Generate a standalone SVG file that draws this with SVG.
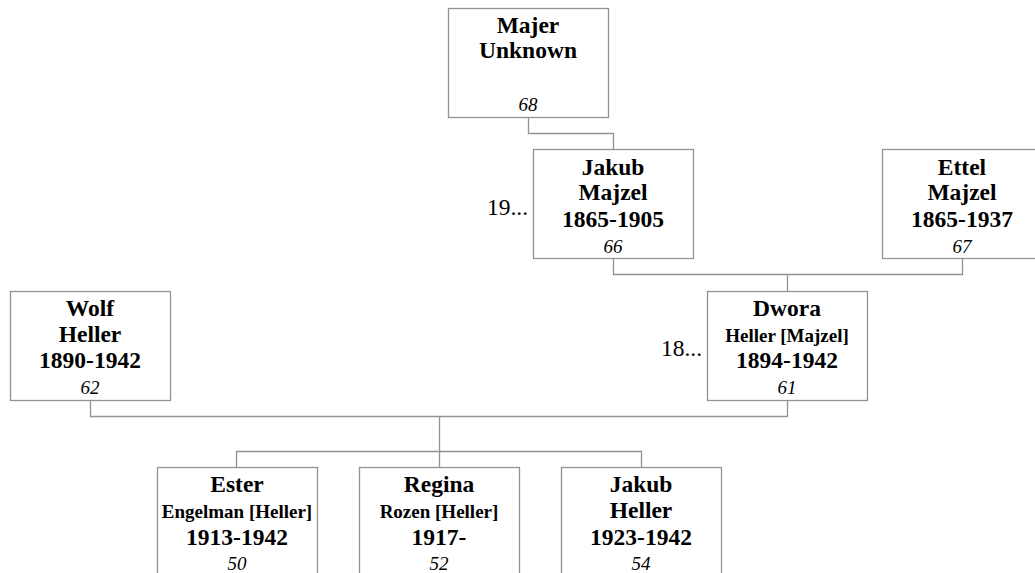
<svg xmlns="http://www.w3.org/2000/svg" width="1035" height="573" viewBox="0 0 1035 573">
<style>
rect.box{fill:#fff;stroke:#939393;stroke-width:1.3}
.conn path{fill:none;stroke:#939393;stroke-width:1.3}
text{font-family:"Liberation Serif","Times New Roman",serif;fill:#000;text-anchor:middle}
.n{font-weight:bold;font-size:23.5px}
.s{font-weight:bold;font-size:19px}
.i{font-style:italic;font-size:19px}
.g{font-size:23.5px;text-anchor:end}
</style>
<rect width="1035" height="573" fill="#fff"/>
<g class="conn" id="connectors">
<path d="M528.5,117 V133.5 H613.5 V149"/>
<path d="M613.5,258 V274.5 H962.5 V259"/>
<path d="M787.5,274.5 V291"/>
<path d="M90.5,400 V416.5 H787.5 V400"/>
<path d="M439.5,416.5 V467"/>
<path d="M236.5,467 V451.5 H641.5 V467"/>
</g>
<g id="majer">
<rect class="box" x="448.5" y="8.5" width="160" height="109"/>
<text class="n" x="528" y="33">Majer</text>
<text class="n" x="528" y="58">Unknown</text>
<text class="i" x="528" y="111">68</text>
</g>
<g id="jakub-majzel">
<rect class="box" x="533.5" y="149.5" width="160" height="109"/>
<text class="n" x="613" y="175">Jakub</text>
<text class="n" x="613" y="200">Majzel</text>
<text class="n" x="613" y="227">1865-1905</text>
<text class="i" x="613" y="253">66</text>
<text class="g" x="528" y="215">19...</text>
</g>
<g id="ettel">
<rect class="box" x="882.5" y="149.5" width="160" height="109"/>
<text class="n" x="962" y="175">Ettel</text>
<text class="n" x="962" y="200">Majzel</text>
<text class="n" x="962" y="227">1865-1937</text>
<text class="i" x="962" y="253">67</text>
</g>
<g id="wolf">
<rect class="box" x="10.5" y="291.5" width="160" height="109"/>
<text class="n" x="90" y="316">Wolf</text>
<text class="n" x="90" y="342">Heller</text>
<text class="n" x="90" y="368">1890-1942</text>
<text class="i" x="90" y="394">62</text>
</g>
<g id="dwora">
<rect class="box" x="707.5" y="291.5" width="160" height="109"/>
<text class="n" x="787" y="316">Dwora</text>
<text class="s" x="787" y="342">Heller [Majzel]</text>
<text class="n" x="787" y="368">1894-1942</text>
<text class="i" x="787" y="394">61</text>
<text class="g" x="702" y="356">18...</text>
</g>
<g id="ester">
<rect class="box" x="157.5" y="467.5" width="160" height="109"/>
<text class="n" x="237" y="492">Ester</text>
<text class="s" x="237" y="518">Engelman [Heller]</text>
<text class="n" x="237" y="545">1913-1942</text>
<text class="i" x="237" y="570">50</text>
</g>
<g id="regina">
<rect class="box" x="359.5" y="467.5" width="160" height="109"/>
<text class="n" x="439" y="492">Regina</text>
<text class="s" x="439" y="518">Rozen [Heller]</text>
<text class="n" x="439" y="545">1917-</text>
<text class="i" x="439" y="570">52</text>
</g>
<g id="jakub-heller">
<rect class="box" x="561.5" y="467.5" width="160" height="109"/>
<text class="n" x="641" y="492">Jakub</text>
<text class="n" x="641" y="518">Heller</text>
<text class="n" x="641" y="545">1923-1942</text>
<text class="i" x="641" y="570">54</text>
</g>
</svg>
